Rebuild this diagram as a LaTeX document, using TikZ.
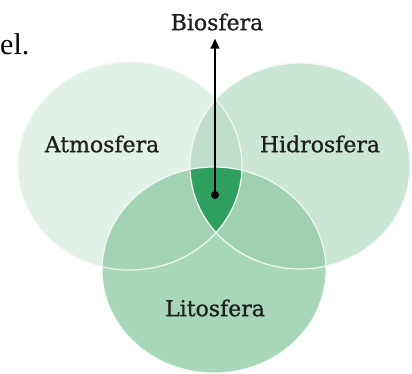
\documentclass[tikz,border=0pt]{standalone}
\usepackage{fontspec}
\setmainfont{DejaVu Serif}
\newfontfamily\sphfont[FakeBold=0.9]{DejaVu Serif}
\newfontfamily\pagefont{Liberation Serif}
\usetikzlibrary{arrows.meta,positioning}

% --- sphere colours ---
\definecolor{atmoGreen}{HTML}{E2F1E7}
\definecolor{hidroGreen}{HTML}{CAE6D5}
\definecolor{litoGreen}{HTML}{A8D6B9}
\definecolor{lensGreen}{HTML}{C0DECC}
\definecolor{alGreen}{HTML}{A3D2B4}
\definecolor{hlGreen}{HTML}{A0D0B2}
\definecolor{bioGreen}{HTML}{2F9F5E}

% --- the three spheres as paths ---
\newcommand{\atmopath}{(130,166) ellipse [x radius=112pt, y radius=104pt]}
\newcommand{\hidropath}{(300,166) ellipse [x radius=110pt, y radius=103pt]}
\newcommand{\litopath}{(214,270) ellipse [x radius=112pt, y radius=103pt]}

\begin{document}
\begin{tikzpicture}[x=1pt, y=-1pt,
    % --- text styles ---
    sphname/.style={font=\sphfont\fontsize{22}{24}\selectfont, text=black!88, inner sep=1pt},
    % --- outline and arrow styles ---
    rim/.style={draw=white!85!litoGreen, line width=1.2pt},
    flow/.style={-{Triangle[length=10pt, width=9pt]}, line width=1.5pt, shorten >=7pt},
]
\useasboundingbox (0,0) rectangle (412,374);

% === Fills of the spheres and their overlaps ===
\fill[atmoGreen] \atmopath;
\fill[hidroGreen] \hidropath;
\begin{scope}
  \clip \atmopath;
  \fill[lensGreen] \hidropath;
\end{scope}
\fill[litoGreen] \litopath;
\begin{scope}
  \clip \litopath;
  \fill[alGreen] \atmopath;
  \fill[hlGreen] \hidropath;
  \clip \atmopath;
  \fill[bioGreen] \hidropath;
\end{scope}

% === Light rims ===
\draw[rim] \atmopath;
\draw[rim] \hidropath;
\draw[rim] \litopath;

% === Labels ===
\node[font=\pagefont\fontsize{30}{32}\selectfont, anchor=base west, inner sep=0] (pagetxt) at (0,55) {el.};
\node[sphname] (atmo)  at (102,144) {Atmosfera};
\node[sphname] (hidro) at (320,144) {Hidrosfera};
\node[sphname] (lito)  at (215,308) {Litosfera};
\node[sphname] (bio)   at (217,22)  {Biosfera};

% === Biosfera pointer ===
\node[circle, fill=black, inner sep=0, minimum size=8pt] (bdot) at (215,195) {};
\draw[flow] (bdot.center) -- (bdot |- bio.south);

\end{tikzpicture}
\end{document}
